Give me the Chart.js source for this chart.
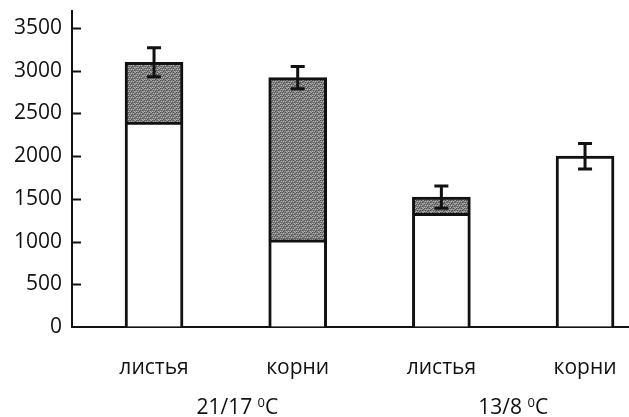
<!DOCTYPE html>
<html>
<head>
<meta charset="utf-8">
<script src="https://cdn.jsdelivr.net/npm/chart.js@4/dist/chart.umd.min.js"></script>
<style>
html,body{margin:0;padding:0;background:#fff;overflow:hidden;}
#wrap{width:629px;height:417px;position:relative;}
</style>
</head>
<body>
<div id="wrap"><canvas id="c" width="629" height="417"></canvas></div>
<script>
// ---- data ----
const categories = ["листья", "корни", "листья", "корни"];
const whitePart = [2400, 1020, 1330, 2000];
const grayPart = [700, 1900, 190, null];
const errorValues = [170, 130, 130, 150];
const groupLabels = ["21/17", "13/8"];
const groupPositions = [0.58, 2.5];
const yTicks = [0, 500, 1000, 1500, 2000, 2500, 3000, 3500];

const FONT = "'Open Sans', 'DejaVu Sans', sans-serif";

// stippled gray fill (texture only)
function makePattern() {
  const p = document.createElement('canvas');
  p.width = 8; p.height = 4;
  const g = p.getContext('2d');
  g.fillStyle = '#808080';
  g.fillRect(0, 0, 8, 4);
  g.fillStyle = '#4e4e4e';
  [[0,0],[2,0],[5,0],[1,2],[4,2],[6,2],[3,3],[7,1]].forEach(([x,y]) => g.fillRect(x, y, 1, 1));
  g.fillStyle = '#b4b4b4';
  [[1,1],[3,1],[5,1],[0,3],[2,3],[6,3],[7,0]].forEach(([x,y]) => g.fillRect(x, y, 1, 1));
  return p.getContext('2d').createPattern(p, 'repeat');
}
const ctxMain = document.getElementById('c').getContext('2d');
const grayFill = makePattern();

const whiteData = whitePart.map((v, i) => ({x: i, y: v}));
const grayData = grayPart.map((v, i) => ({x: i, y: v}));
const totals = whitePart.map((v, i) => v + (grayPart[i] || 0));

const extras = {
  id: 'extras',
  afterDatasetsDraw(chart) {
    const ctx = chart.ctx;
    const xs = chart.scales.x, ys = chart.scales.y;
    ctx.save();
    ctx.strokeStyle = '#111';
    ctx.lineWidth = 3;
    // error bars
    totals.forEach((t, i) => {
      const x = xs.getPixelForValue(i);
      const yTop = ys.getPixelForValue(t + errorValues[i]);
      const yBot = ys.getPixelForValue(t - errorValues[i]);
      ctx.beginPath();
      ctx.moveTo(x, yTop); ctx.lineTo(x, yBot);
      ctx.moveTo(x - 7, yTop); ctx.lineTo(x + 7, yTop);
      ctx.moveTo(x - 7, yBot); ctx.lineTo(x + 7, yBot);
      ctx.stroke();
    });
    // inward y tick marks
    ctx.lineWidth = 2;
    const left = chart.chartArea.left;
    yTicks.forEach(v => {
      if (v === 0) return;
      const y = Math.round(ys.getPixelForValue(v)) + 0.5;
      ctx.beginPath();
      ctx.moveTo(left, y); ctx.lineTo(left + 9, y);
      ctx.stroke();
    });
    // group labels
    ctx.fillStyle = '#111';
    ctx.textBaseline = 'alphabetic';
    groupLabels.forEach((lab, i) => {
      const cx = xs.getPixelForValue(groupPositions[i]);
      const big = '21px ' + FONT, small = '13px ' + FONT;
      ctx.font = big;
      const w1 = ctx.measureText(lab + ' ').width;
      const w3 = ctx.measureText('C').width;
      ctx.font = small;
      const w2 = ctx.measureText('0').width;
      let x = cx - (w1 + w2 + w3) / 2;
      const base = 414;
      ctx.textAlign = 'left';
      ctx.font = big; ctx.fillText(lab + ' ', x, base); x += w1;
      ctx.font = small; ctx.fillText('0', x, base - 7); x += w2;
      ctx.font = big; ctx.fillText('C', x, base);
    });
    ctx.restore();
  }
};

function zeroPad(scale) {
  scale.paddingTop = 0; scale.paddingBottom = 0;
  scale.paddingLeft = 0; scale.paddingRight = 0;
}

new Chart(ctxMain, {
  type: 'bar',
  data: {
    datasets: [
      {data: whiteData, backgroundColor: '#ffffff', borderColor: '#111', borderWidth: 3, barThickness: 58},
      {data: grayData, backgroundColor: grayFill, borderColor: '#111', borderWidth: 3, barThickness: 58}
    ]
  },
  options: {
    responsive: false,
    animation: false,
    devicePixelRatio: 1,
    layout: {padding: {top: 11, right: 0, left: 0, bottom: 0}},
    plugins: {legend: {display: false}, tooltip: {enabled: false}},
    scales: {
      x: {
        type: 'linear',
        stacked: true,
        offset: false,
        min: -0.571,
        max: 3.306,
        afterBuildTicks(scale) { scale.ticks = categories.map((c, i) => ({value: i})); },
        afterFit(scale) { scale.height = 90; zeroPad(scale); },
        ticks: {
          callback: (v) => categories[v],
          font: {family: FONT, size: 21},
          color: '#111',
          padding: 28,
          maxRotation: 0,
          autoSkip: false
        },
        grid: {display: true, drawOnChartArea: false, drawTicks: false},
        border: {display: true, color: '#111', width: 2}
      },
      y: {
        stacked: true,
        min: 0,
        max: 3700,
        afterBuildTicks(scale) { scale.ticks = yTicks.map(v => ({value: v})); },
        afterFit(scale) { scale.width = 72; zeroPad(scale); },
        ticks: {
          callback: (v) => String(v),
          font: {family: FONT, size: 21},
          color: '#111',
          padding: 10
        },
        grid: {display: true, drawOnChartArea: false, drawTicks: false},
        border: {display: true, color: '#111', width: 2}
      }
    }
  },
  plugins: [extras]
});
</script>
</body>
</html>
